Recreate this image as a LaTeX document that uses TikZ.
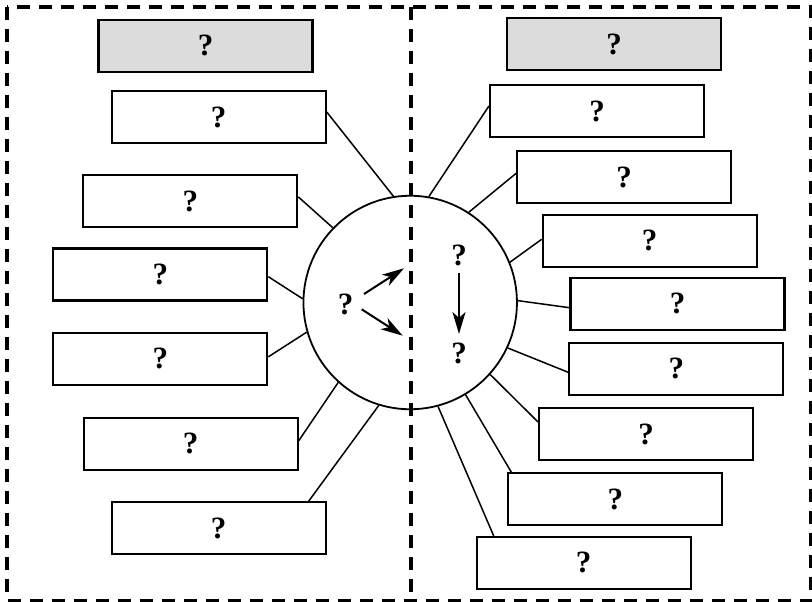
\documentclass[tikz,border=0pt]{standalone}
\usepackage{fontspec}
\setmainfont{Liberation Serif}
\usetikzlibrary{arrows.meta,calc}
\definecolor{boxgray}{HTML}{DCDCDC}
\begin{document}
\begin{tikzpicture}[x=1pt,y=-1pt,
  box/.style={draw, fill=white, line width=2.1pt, minimum width=214pt, minimum height=52pt, inner sep=0pt,
    font=\fontsize{31}{31}\selectfont\bfseries},
  graybox/.style={box, fill=boxgray},
  link/.style={line width=1.5pt},
  frame/.style={line width=3.4pt, dash pattern=on 13pt off 9pt},
  qmark/.style={inner sep=2pt, font=\fontsize{31}{31}\selectfont\bfseries},
  arr/.style={line width=2pt, -{Stealth[length=22pt,width=13pt,inset=6pt]}}]
\useasboundingbox (0,0) rectangle (812,602);
% frame and divider
\draw[frame] (7,7) rectangle (811,600.5);
\draw[frame] (411,7) -- (411,600.5);
% circle
\node[draw, circle, line width=1.8pt, minimum size=213.5pt, inner sep=0pt] (C) at (410.2,302.5) {};
% left boxes
\node[graybox] (GL) at (205.5,45.8) {?};
\node[box] (L1) at (218.7,117) {?};
\node[box] (L2) at (190.3,201.2) {?};
\node[box] (L3) at (160.3,274.5) {?};
\node[box] (L4) at (160.3,358.8) {?};
\node[box] (L5) at (190.7,443.7) {?};
\node[box] (L6) at (218.7,528.2) {?};
% right boxes
\node[graybox] (GR) at (614,44) {?};
\node[box] (R1) at (597,111) {?};
\node[box] (R2) at (624.2,177.3) {?};
\node[box] (R3) at (649.7,240.8) {?};
\node[box] (R4) at (677.5,303.7) {?};
\node[box] (R5) at (676.3,368.8) {?};
\node[box] (R6) at (646,434.2) {?};
\node[box] (R7) at (615.3,499.2) {?};
\node[box] (R8) at (583.7,562.9) {?};
% connectors left
\draw[link] ($(L1.east)+(0,-5)$) -- (C.99.7);
\draw[link] ($(L2.east)+(0,-4.3)$) -- (C.136.5);
\draw[link] ($(L3.east)+(0,2.2)$) -- (C.178.6);
\draw[link] ($(L4.east)+(0,-2)$) -- (C.196.6);
\draw[link] ($(L5.east)+(0,-3)$) -- (C.228.5);
\draw[link] ($(L6.north)+(90,0)$) -- (C.253.6);
% connectors right
\draw[link] ($(R1.west)+(0,-5)$) -- (C.80.4);
\draw[link] ($(R2.west)+(0,-4)$) -- (C.57.3);
\draw[link] ($(R3.west)+(0,-1.5)$) -- (C.22.1);
\draw[link] ($(R4.west)+(0,4)$) -- (C.1.7);
\draw[link] ($(R5.west)+(0,3.5)$) -- (C.-25.8);
\draw[link] ($(R6.west)+(0,-12.3)$) -- (C.-42);
\draw[link] ($(R7.north)+(-104,0)$) -- (C.-59);
\draw[link] ($(R8.north)+(-90,0)$) -- (C.-75);
% inside circle
\node[qmark] (qa) at (345.5,304.2) {?};
\node[qmark] (qb) at (459,255.8) {?};
\node[qmark] (qc) at (459,353.3) {?};
\coordinate (a1) at (404,268.3);
\coordinate (a2) at (402.7,335.7);
\draw[arr] ($(qa.center)+(18.5,-10.2)$) -- (a1);
\draw[arr] ($(qa.center)+(16.2,5.1)$) -- (a2);
\draw[arr] ($(qb.center)+(0,17)$) -- ($(qc.center)+(0,-19.3)$);
\end{tikzpicture}
\end{document}
